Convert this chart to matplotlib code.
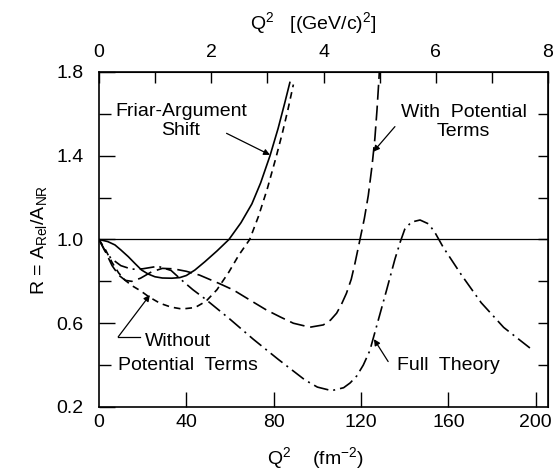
import matplotlib
matplotlib.use("Agg")
import matplotlib.pyplot as plt

plt.rcParams['font.family'] = ['Liberation Sans', 'DejaVu Sans']
plt.rcParams['mathtext.default'] = 'regular'

# Q^2 in fm^-2, ratio R
friar_x = [0, 4, 7.3, 10, 13.4, 16.5, 19.5, 22.5, 25.6, 29, 33.3, 37, 40, 43.9,
           48.5, 54, 59.5, 65, 70, 74, 78.3, 82, 85, 87.4]
friar_y = [1.0, 0.99, 0.974, 0.95, 0.918, 0.885, 0.854, 0.835, 0.822, 0.816, 0.815,
           0.818, 0.828, 0.854, 0.894, 0.945, 1.0, 1.08, 1.17, 1.27, 1.40, 1.53, 1.65, 1.75]

without_x = [0, 3, 6, 9, 12, 15, 19, 23, 28, 33, 38, 44, 49, 54, 59.5, 64, 69, 73,
             77, 81, 84, 86.5, 89]
without_y = [1.0, 0.95, 0.89, 0.84, 0.805, 0.78, 0.755, 0.725, 0.695, 0.677, 0.668,
             0.675, 0.705, 0.76, 0.845, 0.925, 1.0, 1.11, 1.24, 1.39, 1.51, 1.62, 1.74]

with_x = [0, 3, 6, 9, 12, 15, 19, 24, 29, 34, 40, 46, 55, 61.5, 70, 76.7, 83, 89,
          96.6, 102.7, 106, 108.8, 111, 113.3, 115.5, 117.2, 119.5, 121.5, 123.3,
          125, 126.3, 127.3, 128.2, 128.6]
with_y = [1.0, 0.94, 0.875, 0.83, 0.805, 0.80, 0.815, 0.845, 0.862, 0.86, 0.848,
          0.83, 0.79, 0.759, 0.705, 0.663, 0.63, 0.60, 0.581, 0.592, 0.615, 0.648,
          0.69, 0.743, 0.81, 0.886, 1.0, 1.1, 1.21, 1.35, 1.48, 1.62, 1.77, 1.85]

full_x = [0, 2.5, 5.5, 10, 15, 20, 27, 33, 38.5, 43, 48.5, 60, 70.6, 82, 94.3, 100,
          106.5, 112, 115, 118, 121, 124, 127.8, 131.7, 135.5, 138, 140, 143, 147,
          151, 154, 157.6, 166, 175, 185.3, 198.5]
full_y = [1.0, 0.95, 0.91, 0.875, 0.858, 0.86, 0.872, 0.852, 0.80, 0.76, 0.717,
          0.619, 0.524, 0.428, 0.329, 0.295, 0.278, 0.292, 0.315, 0.348, 0.40, 0.469,
          0.612, 0.759, 0.906, 0.99, 1.049, 1.083, 1.093, 1.074, 1.03, 0.963, 0.83,
          0.698, 0.58, 0.472]

xticks_fm = [40, 80, 120, 160, 200]
yticks_major = [0.2, 0.6, 1.0, 1.4, 1.8]
yticks_minor = [0.4, 0.8, 1.2, 1.6]
gev_major = [0, 2, 4, 6, 8]
gev_minor = [1, 3, 5, 7]
fm_per_gev = 25.7

fig = plt.figure(figsize=(5.6, 4.71), dpi=100)
ax = fig.add_axes([0.1768, 0.1359, 0.8018, 0.7113])

lw = 1.2
ax.axhline(1.0, color='black', lw=0.9)
ax.plot(friar_x, friar_y, color='black', lw=lw)
ax.plot(without_x, without_y, color='black', lw=lw, dashes=(4, 3))
ax.plot(with_x, with_y, color='black', lw=lw, dashes=(9, 3.5))
ax.plot(full_x, full_y, color='black', lw=lw, dashes=(9, 3, 1.2, 3))

ax.set_xlim(0, 8 * fm_per_gev)
ax.set_ylim(0.2, 1.8)

for s in ax.spines.values():
    s.set_linewidth(1.2)

ax.set_xticks(xticks_fm)
ax.set_xticklabels(['40', '80', '120', '160', '200'])
ax.set_yticks(yticks_major)
ax.set_yticks(yticks_minor, minor=True)
ax.tick_params(axis='x', direction='in', length=10.5, width=1.0, pad=5, labelsize=14)
ax.tick_params(axis='y', which='major', direction='in', length=11.5, width=1.0,
               pad=11, labelsize=14)
ax.tick_params(axis='y', which='minor', direction='in', length=8.5, width=1.0)
ax.text(0, -0.02, '0', transform=ax.get_xaxis_transform(), ha='center', va='top',
        fontsize=14)

secx = ax.secondary_xaxis('top', functions=(lambda x: x / fm_per_gev,
                                            lambda q: q * fm_per_gev))
secx.set_xticks(gev_major)
secx.set_xticks(gev_minor, minor=True)
secx.set_xticklabels([str(v) for v in gev_major])
secx.tick_params(which='both', direction='in', length=8, width=1.0, pad=8, labelsize=14)
ax.text(0.477, 1.146, r'Q$^2$   [(GeV/c)$^2$]', transform=ax.transAxes,
        ha='center', va='center', fontsize=14)

secy = ax.secondary_yaxis('right')
secy.set_yticks(yticks_major[1:-1] + yticks_minor)
secy.tick_params(direction='in', length=7, width=1.0, labelright=False)

ax.text(0.483, -0.153, r'Q$^2$    (fm$^{-2}$)', transform=ax.transAxes,
        ha='center', va='center', fontsize=14)
ax.set_ylabel(r'R = A$_{Rel}$/A$_{NR}$', fontsize=14)
ax.yaxis.set_label_coords(-0.112, 0.5)

arrow = dict(arrowstyle='-|>', color='black', lw=0.9, mutation_scale=9,
             shrinkA=0, shrinkB=0)

ax.text(37.5, 1.566, 'Friar-Argument\nShift', ha='center', va='center',
        fontsize=14, linespacing=1.15)
ax.annotate('', xy=(78.3, 1.404), xytext=(58.4, 1.507), arrowprops=arrow)

ax.text(167, 1.559, 'With  Potential\nTerms', ha='center', va='center',
        fontsize=14, linespacing=1.15)
ax.annotate('', xy=(125.6, 1.419), xytext=(135.5, 1.539), arrowprops=arrow)

ax.text(21, 0.513, 'Without', ha='left', va='center', fontsize=14)
ax.text(8.7, 0.40, 'Potential  Terms', ha='left', va='center', fontsize=14)
ax.plot([18.8, 8.8], [0.535, 0.535], color='black', lw=0.9)
ax.annotate('', xy=(23.3, 0.735), xytext=(8.8, 0.535), arrowprops=arrow)

ax.text(136.4, 0.40, 'Full  Theory', ha='left', va='center', fontsize=14)
ax.annotate('', xy=(125.9, 0.524), xytext=(132.4, 0.417), arrowprops=arrow)

fig.savefig('out.png', dpi=100)
